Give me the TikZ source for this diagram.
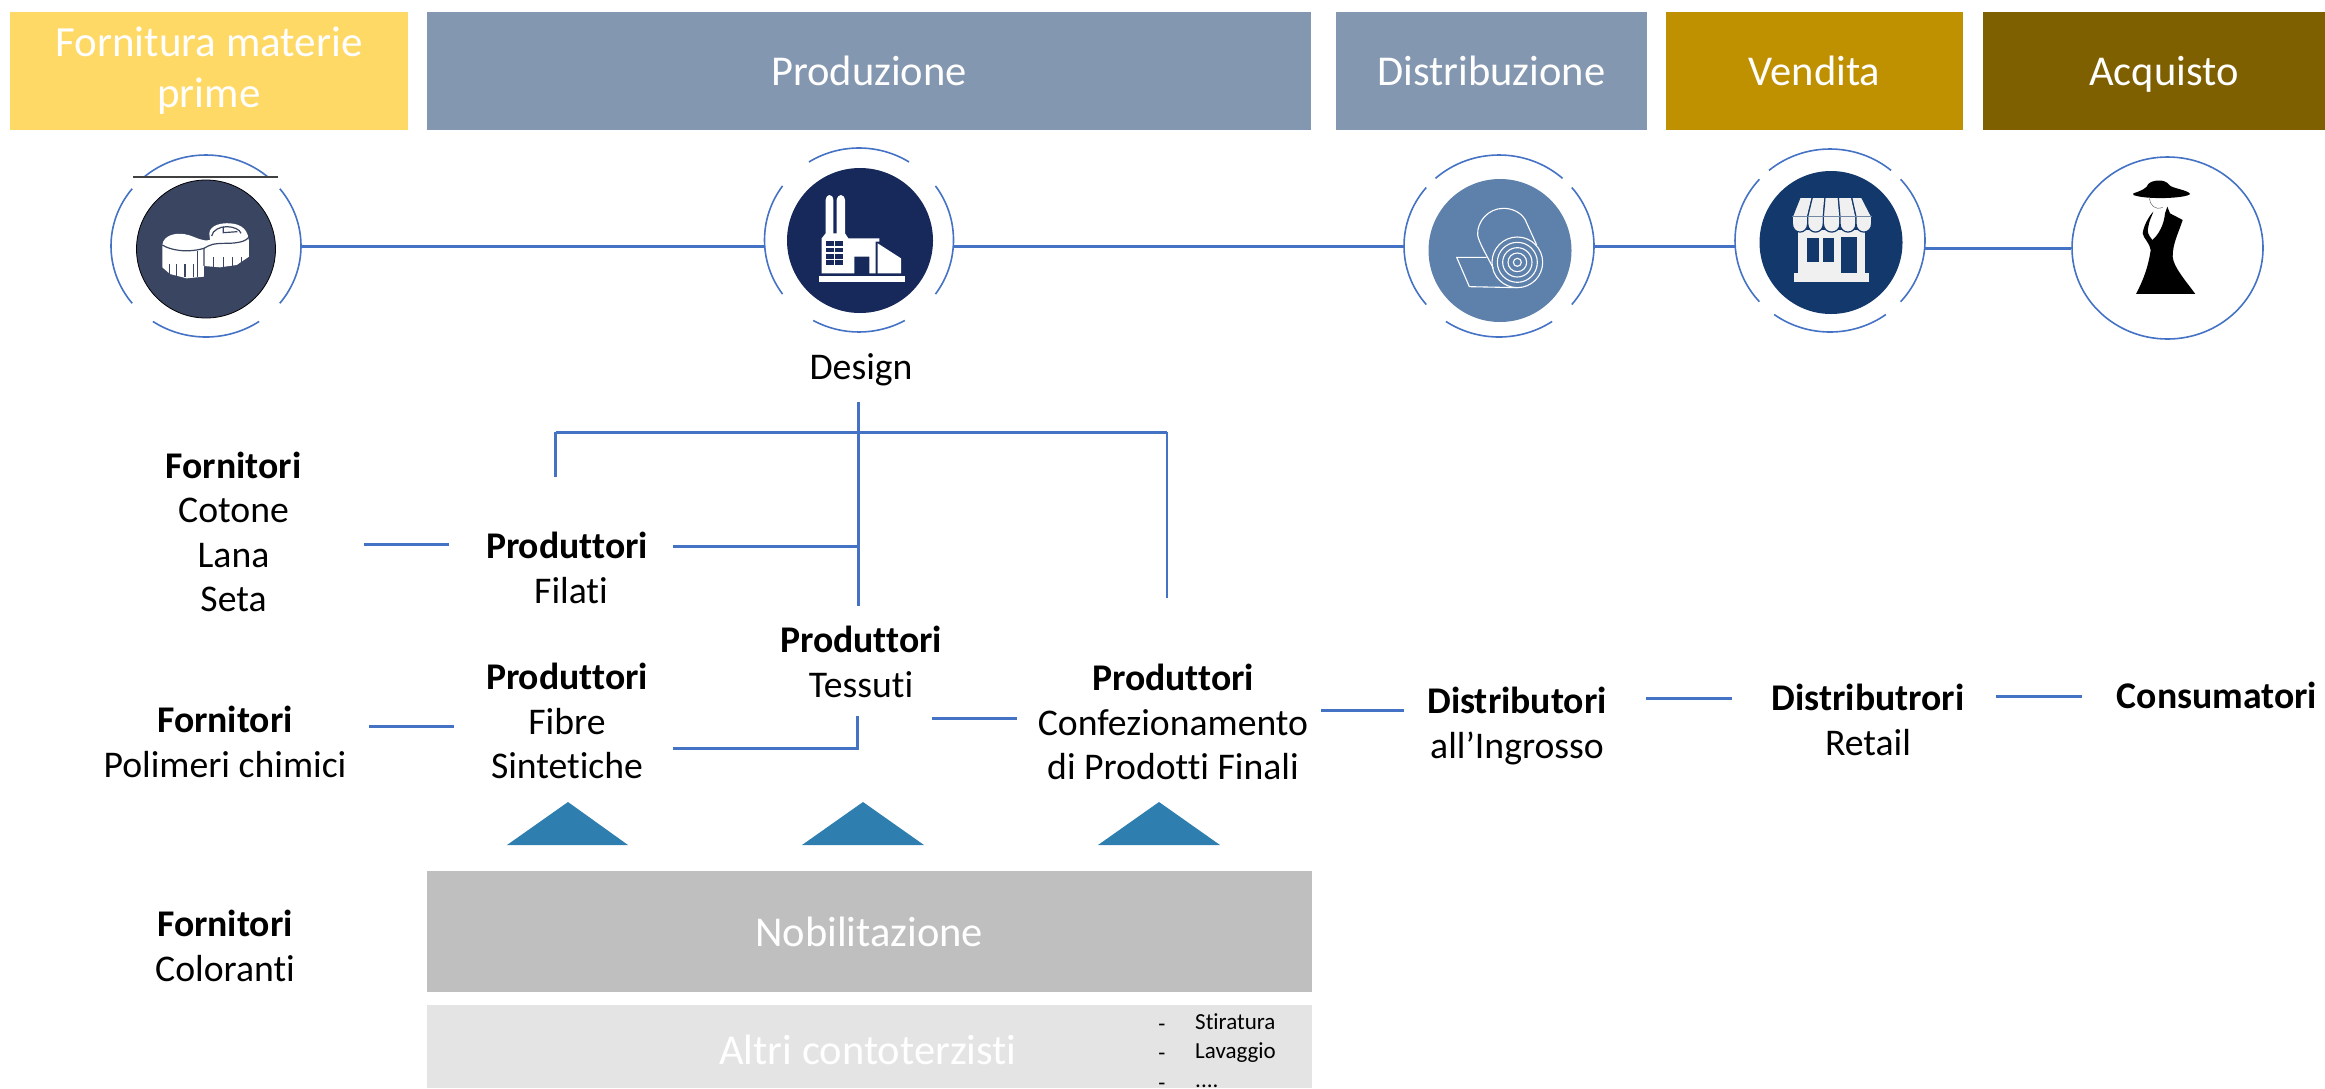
\documentclass[tikz,border=0pt]{standalone}
\usepackage{tikz}
\usepackage{xcolor}
\usepackage{fontspec}
\setmainfont{Carlito}[Ligatures={TeX,NoCommon}]
\usetikzlibrary{shapes.geometric}

\definecolor{lineblue}{HTML}{4472C4}
\definecolor{headyellow}{HTML}{FFD966}
\definecolor{headblue}{HTML}{8497B0}
\definecolor{headgold}{HTML}{BF9000}
\definecolor{headbrown}{HTML}{7F6000}
\definecolor{greydark}{HTML}{BFBFBF}
\definecolor{greylight}{HTML}{E4E4E4}
\definecolor{discforn}{HTML}{3A4562}
\definecolor{discprod}{HTML}{16295A}
\definecolor{discdist}{HTML}{5E81AC}
\definecolor{discvend}{HTML}{13386B}
\definecolor{trifill}{HTML}{2E7EB0}
\definecolor{shopwhite}{HTML}{F0F0F0}

\tikzset{
	headbox/.style={fill=#1,text=white,inner sep=0pt,align=center,font=\fontsize{42.5}{51}\selectfont},
	lab/.style={inner sep=0pt,align=center,text=black,font=\fontsize{37.7}{44.5}\selectfont},
	conn/.style={draw=lineblue,line width=3pt},
	thinconn/.style={draw=lineblue,line width=2.3pt},
	ringline/.style={draw=lineblue,line width=1.6pt},
	ringnode/.style={ellipse,inner sep=0pt},
	disc/.style={ellipse,inner sep=0pt,fill=#1},
	icon/.style={shift={(#1)},x=.3333pt,y=-.3333pt},
}

\newcommand{\ringarcs}[6]{
	\foreach \a/\b in {#4/180-#4,-#5/#5,180-#5/180+#5,180+#6/360-#6}
		\draw[ringline] ([shift={(\a:#2pt and #3pt)}]#1.center) arc[start angle=\a,end angle=\b,x radius=#2pt,y radius=#3pt];
}

\begin{document}
\begin{tikzpicture}[x=1pt,y=-1pt]
	\useasboundingbox (0,0) rectangle (2325,1088);

	% header
	\node[headbox=headyellow,font=\fontsize{43}{51}\selectfont,minimum width=398pt,minimum height=118pt] (headforn) at (209,71) {Fornitura materie\\prime};
	\node[headbox=headblue,minimum width=884pt,minimum height=118pt] (headprod) at (869,71) {Produzione};
	\node[headbox=headblue,minimum width=311pt,minimum height=118pt] (headdist) at (1491.5,71) {Distribuzione};
	\node[headbox=headgold,minimum width=297pt,minimum height=118pt] (headvend) at (1814.5,71) {Vendita};
	\node[headbox=headbrown,text depth=0pt,minimum width=362pt,minimum height=118pt] (headacq) at (2164,71) {Acquisto};

	% rings
	\node[ringnode,minimum width=190pt,minimum height=182pt] (ringforn) at (206,246) {};
	\node[ringnode,minimum width=189pt,minimum height=184pt] (ringprod) at (859,240) {};
	\node[ringnode,minimum width=190pt,minimum height=182pt] (ringdist) at (1499,246) {};
	\node[ringnode,minimum width=190pt,minimum height=183pt] (ringvend) at (1830,240.5) {};
	\node[ringnode,ringline,draw,minimum width=191pt,minimum height=182pt] (ringacq) at (2167.5,248) {};
	\ringarcs{ringforn}{95}{91}{49}{39}{56}
	\ringarcs{ringprod}{94.5}{92}{58}{36}{61}
	\ringarcs{ringdist}{95}{91}{48}{40}{56}
	\ringarcs{ringvend}{95}{91.5}{50}{42}{54}

	\draw[conn] (ringforn.east) -- (ringforn.east -| ringprod.west);
	\draw[conn] (ringdist.west -| ringprod.east) -- (ringdist.west);
	\draw[conn] (ringdist.east) -- (ringdist.east -| ringvend.west);
	\draw[conn] (ringacq.west -| ringvend.east) -- (ringacq.west);

	% discs
	\node[disc=discforn,draw=black,line width=.8pt,minimum width=139pt,minimum height=138pt] (discf) at (206,249) {};
	\draw[draw=black!75,line width=1.5pt] (133,177) -- (278,177);
	\node[disc=discprod,minimum width=146pt,minimum height=145pt] (discp) at (860,240.5) {};
	\node[disc=discdist,minimum width=143pt,minimum height=143pt] (discd) at (1500,250.5) {};
	\node[disc=discvend,minimum width=143pt,minimum height=143pt] (discv) at (1831,242.5) {};

	% tape
	\begin{scope}[icon={130,180}]
		\fill[white] (97,195) .. controls (100,165) and (140,155) .. (175,165) .. controls (200,172) and (215,185) .. (240,180) -- (238,160) .. controls (240,135) and (275,128) .. (300,130) .. controls (335,132) and (357,150) .. (357,190) -- (357,230) -- (320,255) -- (270,262) -- (222,258) -- (222,290) -- (170,295) -- (120,282) -- (97,262) -- cycle;
		\draw[discforn,line width=1.2pt] (245,168) .. controls (248,150) and (270,140) .. (290,140) .. controls (310,140) and (330,148) .. (333,160);
		\draw[discforn,line width=1.2pt] (280,140) -- (280,158) -- (322,155);
		\draw[discforn,line width=1.2pt] (222,205) .. controls (240,195) and (245,190) .. (290,190) .. controls (320,190) and (350,185) .. (357,170);
		\draw[discforn,line width=1.2pt] (97,195) .. controls (120,210) and (170,220) .. (222,205) -- (222,258);
		\draw[discforn,line width=1.2pt] (203,212) -- (203,292);
		\foreach \tx in {118,140,165,190}
			\draw[discforn,line width=1.2pt] (\tx,290) -- (\tx,252);
		\foreach \tx in {250,280,308,335}
			\draw[discforn,line width=1.2pt] (\tx,265) -- (\tx,232);
	\end{scope}

	% factory
	\begin{scope}[icon={785,170}]
		\fill[white] (110,310) -- (110,205) -- (122,190) -- (122,90) .. controls (124,80) and (128,75) .. (133,75) .. controls (140,75) and (144,80) .. (145,90) -- (145,190) -- (155,190) -- (155,90) .. controls (157,80) and (162,75) .. (168,75) .. controls (174,75) and (178,80) .. (180,90) -- (180,190) -- (190,205) -- (283,205) -- (283,215) -- (272,215) -- (272,310) -- (253,310) -- (253,260) -- (208,260) -- (208,310) -- cycle;
		\fill[white] (278,220) -- (348,265) -- (348,310) -- (278,310) -- cycle;
		\fill[white] (102,318) rectangle (360,337);
		\foreach \wy in {214,233,252,271}
			\foreach \wx in {122,151}
				\fill[discprod] (\wx,\wy) rectangle (\wx+24,\wy+14);
	\end{scope}

	% roll
	\begin{scope}[icon={1425,180}]
		\foreach \rr in {76,60,44,28,12}
			\draw[white,line width=1.1pt] (277,247) circle[radius=\rr];
		\draw[white,line width=1.1pt] (335,195) -- (300,118) .. controls (285,95) and (260,85) .. (235,85) .. controls (190,85) and (155,125) .. (158,165) .. controls (160,185) and (190,235) .. (205,265);
		\draw[white,line width=1.1pt] (185,232) -- (95,232) -- (133,320) -- (277,323);
	\end{scope}

	% shop
	\begin{scope}[icon={1755,170}]
		\fill[shopwhite] (130,180) rectangle (330,312);
		\fill[shopwhite] (118,310) rectangle (343,337);
		\fill[discvend] (157,203) rectangle (192,275);
		\fill[discvend] (203,203) rectangle (238,275);
		\fill[discvend] (258,200) rectangle (307,310);
		\foreach \ta/\tb/\ba/\bb in {135/172/112/158,172/210/158/205,210/250/205/255,250/290/255/303,290/320/303/350}
			\filldraw[fill=shopwhite,draw=discvend,line width=1.2pt] (\ta,82) -- (\tb,82) -- (\bb,140) -- (\bb,160) .. controls (\bb,195) and (\ba,195) .. (\ba,160) -- (\ba,140) -- cycle;
		\draw[discvend!60,line width=.7pt] (112,140) -- (350,140);
	\end{scope}

	% lady
	\begin{scope}[icon={2090,170}]
		\fill[black] (130,70) .. controls (155,62) and (170,55) .. (175,42) .. controls (185,30) and (225,25) .. (238,45) .. controls (245,55) and (295,60) .. (300,72) .. controls (290,85) and (170,90) .. (130,75) -- cycle;
		\draw[black!60,line width=.5pt] (178,85) .. controls (180,105) and (195,122) .. (218,112);
		\fill[black] (190,125) .. controls (175,140) and (160,170) .. (158,190) .. controls (160,205) and (180,220) .. (182,240) .. controls (175,290) and (160,330) .. (138,372) -- (316,372) .. controls (285,330) and (250,290) .. (248,260) .. controls (248,220) and (265,190) .. (278,150) -- (240,130) -- (232,110) -- (225,130) .. controls (222,165) and (205,195) .. (187,210) .. controls (175,195) and (170,185) .. (175,170) .. controls (178,150) and (185,140) .. (190,125) -- cycle;
	\end{scope}

	% labels
	\node[lab] (design) at (861,370) {Design};
	\node[lab] (forncotone) at (233.5,532) {\textbf{Fornitori}\\Cotone\\Lana\\Seta};
	\node[lab] (fornpolimeri) at (225,742) {\textbf{Fornitori}\\Polimeri chimici};
	\node[lab] (forncoloranti) at (225,946) {\textbf{Fornitori}\\Coloranti};
	\node[lab] (prodfilati) at (567,568) {\textbf{Produttori}\\\hspace*{8pt}Filati};
	\node[lab] (prodfibre) at (567,721) {\textbf{Produttori}\\Fibre\\Sintetiche};
	\node[lab] (prodtessuti) at (861,662) {\textbf{Produttori}\\Tessuti};
	\node[lab] (prodconf) at (1173,722) {\textbf{Produttori}\\Confezionamento\\di Prodotti Finali};
	\node[lab] (distingrosso) at (1517,726) {\textbf{Distributori}\\all’Ingrosso};
	\node[lab] (distretail) at (1868,720) {\textbf{Distributrori}\\Retail};
	\node[lab] (consumatori) at (2217,695) {\textbf{Consumatori}};

	% tree
	\coordinate (treetop) at (858.5,402);
	\coordinate (treeend) at (858.5,606);
	\coordinate (barleft) at (555.5,432);
	\coordinate (barright) at (1167,432);
	\coordinate (dropleft) at (555.5,477);
	\coordinate (dropright) at (1167,598);
	\draw[thinconn] (treetop) -- (treeend);
	\draw[conn] (barleft) -- (barright);
	\draw[thinconn] (barleft) -- (dropleft);
	\draw[thinconn] (barright) -- (dropright);

	\coordinate (filatiout) at (673,546);
	\draw[conn] (filatiout) -- (filatiout -| treetop);
	\coordinate (fibreout) at (673,748);
	\coordinate (fibreup) at (857,716);
	\draw[conn] (fibreout) -| (fibreup);

	% free connectors
	\coordinate (cotonein) at (364,544);
	\coordinate (filatiin) at (449,544);
	\draw[conn] (cotonein) -- (filatiin);
	\coordinate (polimeriin) at (369,726);
	\coordinate (fibrein) at (454,726);
	\draw[conn] (polimeriin) -- (fibrein);
	\coordinate (tessutiout) at (932,718);
	\coordinate (confin) at (1017,718);
	\draw[conn] (tessutiout) -- (confin);
	\coordinate (confout) at (1321,710);
	\coordinate (ingrossoin) at (1404,710);
	\draw[conn] (confout) -- (ingrossoin);
	\coordinate (ingrossoout) at (1646,698);
	\coordinate (retailin) at (1732,698);
	\draw[conn] (ingrossoout) -- (retailin);
	\coordinate (retailout) at (1996,696);
	\coordinate (consumatoriin) at (2082,696);
	\draw[conn] (retailout) -- (consumatoriin);

	% triangles
	\foreach \tl/\tt/\tr in {507/568/628,802/863/924,1098/1159/1220}
		\fill[trifill] (\tl,845) -- (\tt,802) -- (\tr,845) -- cycle;

	% lower boxes
	\node[headbox=greydark,text depth=0pt,minimum width=884.5pt,minimum height=121pt] (nobil) at (869.25,931.5) {Nobilitazione};
	\node[headbox=greylight,minimum width=884.5pt,minimum height=83pt] (altri) at (869.25,1046.5) {};
	\node[inner sep=0pt,text=white,font=\fontsize{42.5}{51}\selectfont] (altrilabel) at (868,1050) {Altri contoterzisti};
	\node[inner sep=0pt,align=center,font=\fontsize{23}{29.5}\selectfont] (altridash) at (1162,1057) {-\\-\\-};
	\node[inner sep=0pt,align=left,anchor=west,font=\fontsize{23}{29}\selectfont] (altrilist) at (1195,1051) {Stiratura\\Lavaggio\\....};
\end{tikzpicture}
\end{document}
